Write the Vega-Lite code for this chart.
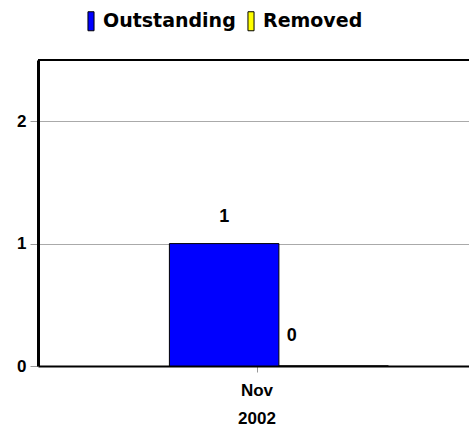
{
  "$schema": "https://vega.github.io/schema/vega-lite/v6.json",
  "width": 438,
  "height": 306,
  "autosize": {"type": "none"},
  "padding": {"left": 38, "top": 60, "right": 0, "bottom": 63},
  "background": "white",
  "config": {
    "view": {"stroke": null},
    "font": "Liberation Sans"
  },
  "data": {
    "values": [
      {"month": "Nov 2002", "series": "Outstanding", "count": 1},
      {"month": "Nov 2002", "series": "Removed", "count": 0}
    ]
  },
  "encoding": {
    "x": {
      "field": "month",
      "type": "nominal",
      "scale": {"paddingInner": 0, "paddingOuter": 0},
      "axis": {
        "title": null,
        "labelAngle": 0,
        "labelExpr": "split(datum.label, ' ')",
        "labelFont": "Liberation Sans",
        "labelFontWeight": "bold",
        "labelFontSize": 17,
        "labelColor": "black",
        "labelLineHeight": 28,
        "labelPadding": 10,
        "tickColor": "#999999",
        "tickSize": 6,
        "domainColor": "black",
        "domainWidth": 2
      }
    },
    "xOffset": {
      "field": "series",
      "type": "nominal",
      "scale": {"domain": ["Outstanding", "Removed"], "paddingInner": 0, "paddingOuter": 1.06, "align": 0.6}
    },
    "y": {
      "field": "count",
      "type": "quantitative",
      "scale": {"domain": [0, 2.5], "nice": false},
      "axis": {
        "title": null,
        "values": [0, 1, 2],
        "format": "d",
        "labelFont": "Liberation Sans",
        "labelFontWeight": "bold",
        "labelFontSize": 17,
        "labelColor": "black",
        "labelPadding": 4,
        "tickColor": "#999999",
        "tickSize": 8,
        "domainColor": "black",
        "domainWidth": 3,
        "gridColor": "#aaaaaa",
        "gridWidth": 1
      }
    }
  },
  "layer": [
    {
      "mark": {"type": "rule", "color": "black", "strokeWidth": 2},
      "encoding": {"y": {"datum": 2.5}, "x": null, "xOffset": null}
    },
    {
      "mark": {"type": "bar", "stroke": "black", "strokeWidth": 1},
      "encoding": {
        "color": {
          "field": "series",
          "type": "nominal",
          "scale": {"domain": ["Outstanding", "Removed"], "range": ["#0000ff", "#ffff00"]},
          "legend": {
            "title": null,
            "orient": "none",
            "direction": "horizontal",
            "legendX": 43,
            "legendY": -49,
            "symbolType": "M-0.32,-1H0.32V1H-0.32Z",
            "symbolSize": 361,
            "symbolStrokeColor": "black",
            "symbolStrokeWidth": 1,
            "symbolOpacity": 1,
            "labelFont": "DejaVu Sans",
            "labelFontWeight": "bold",
            "labelFontSize": 19,
            "labelColor": "black",
            "labelOffset": 2,
            "columnPadding": 5,
            "padding": 0
          }
        }
      }
    },
    {
      "transform": [{"filter": "datum.count > 0"}],
      "mark": {"type": "text", "dy": -27, "baseline": "middle", "align": "center", "font": "Liberation Sans", "fontWeight": "bold", "fontSize": 18, "color": "black"},
      "encoding": {"text": {"field": "count", "type": "quantitative"}}
    },
    {
      "transform": [{"filter": "datum.count == 0"}],
      "mark": {"type": "text", "dx": -42, "dy": -30, "baseline": "middle", "align": "center", "font": "Liberation Sans", "fontWeight": "bold", "fontSize": 18, "color": "black"},
      "encoding": {"text": {"field": "count", "type": "quantitative"}}
    }
  ]
}
